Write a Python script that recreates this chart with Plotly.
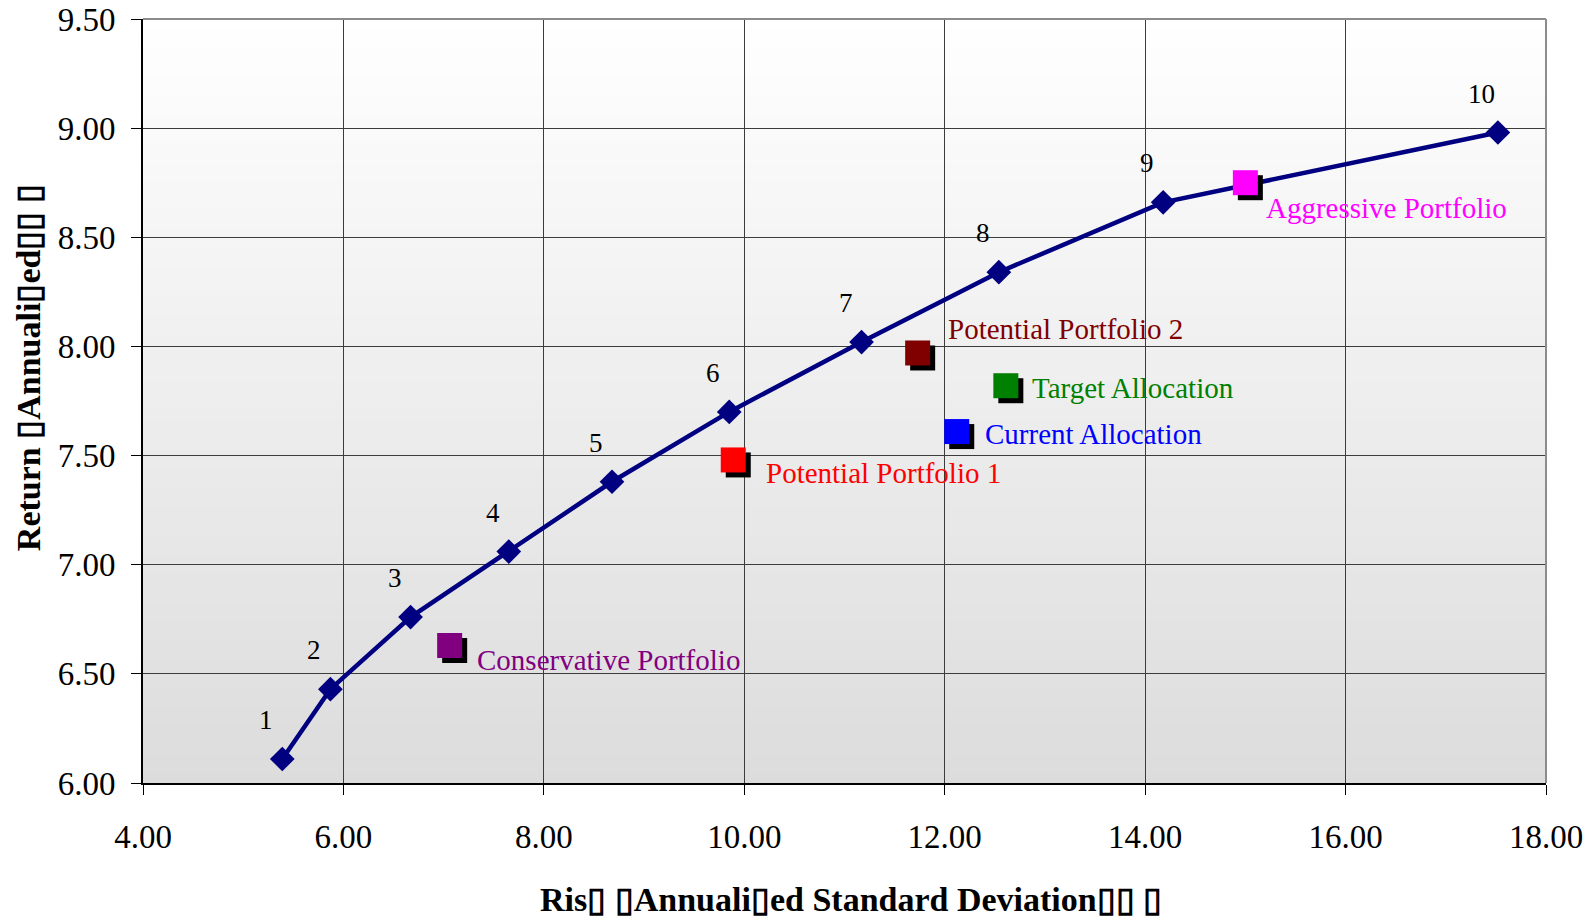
import plotly.graph_objects as go

# ---- data ----
frontier_labels = ["1", "2", "3", "4", "5", "6", "7", "8", "9", "10"]
frontier_risk = [5.39, 5.87, 6.67, 7.65, 8.68, 9.85, 11.17, 12.54, 14.18, 17.52]
frontier_return = [6.11, 6.43, 6.76, 7.06, 7.38, 7.70, 8.02, 8.34, 8.66, 8.98]

portfolio_names = ["Conservative Portfolio", "Potential Portfolio 1", "Potential Portfolio 2",
                   "Target Allocation", "Current Allocation", "Aggressive Portfolio"]
portfolio_risk = [7.06, 9.89, 11.73, 12.61, 12.12, 15.00]
portfolio_return = [6.63, 7.48, 7.97, 7.82, 7.61, 8.75]
portfolio_colors = ["#800080", "#ff0000", "#800000", "#008000", "#0000ff", "#ff00ff"]
# label offsets in pixels (x right, y up)
label_dx = [25, 31, 28, 24, 26, 19]
label_dy = [-15, -13, 24, -2, -2, -25]

x_ticks = [4, 6, 8, 10, 12, 14, 16, 18]
y_ticks = [6.0, 6.5, 7.0, 7.5, 8.0, 8.5, 9.0, 9.5]
x_title = "<b>Ris\u25af \u25afAnnuali\u25afed Standard Deviation\u25af\u25af \u25af</b>"
y_title = "<b>Return \u25afAnnuali\u25afed\u25af\u25af \u25af</b>"

# ---- layout geometry (body margin removed via post_script) ----
W, H = 1594, 917
ML, MR, MT, MB = 143, 48, 19, 134
XR = [4, 18]
YR = [6.0, 9.5]
plot_w = W - ML - MR
plot_h = H - MT - MB
shadow_px = 5
dx = shadow_px * (XR[1] - XR[0]) / plot_w
dy = shadow_px * (YR[1] - YR[0]) / plot_h

FONT = "Liberation Serif, Times New Roman, serif"

fig = go.Figure()

# frontier line
fig.add_trace(go.Scatter(
    x=frontier_risk, y=frontier_return, mode="lines+markers",
    line=dict(color="#000080", width=4.5),
    marker=dict(symbol="diamond", size=19, color="#000080"),
    showlegend=False, hoverinfo="skip", xaxis="x", yaxis="y"))

# shadows (shifted axes)
fig.add_trace(go.Scatter(
    x=portfolio_risk, y=portfolio_return, mode="markers",
    marker=dict(symbol="square", size=25, color="#000000", line=dict(width=0)),
    showlegend=False, hoverinfo="skip", xaxis="x2", yaxis="y2"))

# portfolio squares
fig.add_trace(go.Scatter(
    x=portfolio_risk, y=portfolio_return, mode="markers",
    marker=dict(symbol="square", size=25, color=portfolio_colors, line=dict(width=0)),
    showlegend=False, hoverinfo="skip", xaxis="x3", yaxis="y3"))

annotations = []
for lab, xv, yv in zip(frontier_labels, frontier_risk, frontier_return):
    annotations.append(dict(x=xv, y=yv, xref="x", yref="y", text=lab, showarrow=False,
                            xshift=-16, yshift=39, xanchor="center", yanchor="middle",
                            font=dict(family=FONT, size=27, color="#000000")))
for name, xv, yv, c, ox, oy in zip(portfolio_names, portfolio_risk, portfolio_return,
                                   portfolio_colors, label_dx, label_dy):
    annotations.append(dict(x=xv, y=yv, xref="x", yref="y", text=name, showarrow=False,
                            xshift=ox, yshift=oy, xanchor="left", yanchor="middle",
                            font=dict(family=FONT, size=29, color=c)))

# axis titles as annotations (positioned like the reference)
annotations.append(dict(x=0.5046, y=0, xref="x domain", yref="y domain", text=x_title,
                        showarrow=False, xanchor="center", yanchor="middle", yshift=-116,
                        font=dict(family=FONT, size=34, color="#000000")))
annotations.append(dict(x=0, y=0.543, xref="x domain", yref="y domain", text=y_title,
                        showarrow=False, xanchor="center", yanchor="middle", xshift=-115,
                        textangle=-90, font=dict(family=FONT, size=34, color="#000000")))

# gradient background bands
shapes = []
N = 80
top_c, bot_c = 255, 220
for i in range(N):
    f0, f1 = i / N, (i + 1) / N
    t = (f0 + f1) / 2
    v = round(bot_c + (top_c - bot_c) * t)
    shapes.append(dict(type="rect", xref="x domain", yref="y domain", x0=0, x1=1,
                       y0=f0, y1=f1 + 0.002, fillcolor=f"rgb({v},{v},{v})",
                       line=dict(width=0), layer="below"))
# gray top / right border
shapes.append(dict(type="line", xref="x domain", yref="y domain", x0=0, x1=1, y0=1, y1=1,
                   line=dict(color="#8c8c8c", width=2), layer="above"))
shapes.append(dict(type="line", xref="x domain", yref="y domain", x0=1, x1=1, y0=0, y1=1,
                   line=dict(color="#8c8c8c", width=2), layer="above"))

tickfont = dict(family=FONT, size=33, color="#000000")
fig.update_layout(
    width=W, height=H,
    margin=dict(l=ML, r=MR, t=MT, b=MB, pad=0, autoexpand=False),
    paper_bgcolor="#ffffff", plot_bgcolor="#ffffff",
    font=dict(family=FONT, color="#000000"),
    hovermode=False,
    xaxis=dict(range=XR, tickvals=x_ticks, tickformat=".2f", tickfont=tickfont,
               showgrid=True, gridcolor="#3c3c3c", gridwidth=1,
               showline=True, linecolor="#000000", linewidth=2,
               ticks="outside", ticklen=10, tickcolor="#000000", tickwidth=1,
               zeroline=False, ticklabelstandoff=13, automargin=False,
               ticklabeloverflow="allow"),
    yaxis=dict(range=YR, tickvals=y_ticks, tickformat=".2f", tickfont=tickfont,
               showgrid=True, gridcolor="#3c3c3c", gridwidth=1,
               showline=True, linecolor="#000000", linewidth=2,
               ticks="outside", ticklen=10, tickcolor="#000000", tickwidth=1,
               zeroline=False, ticklabelstandoff=9, automargin=False,
               ticklabeloverflow="allow"),
    xaxis2=dict(range=[XR[0] - dx, XR[1] - dx], overlaying="x", visible=False),
    yaxis2=dict(range=[YR[0] + dy, YR[1] + dy], overlaying="y", visible=False),
    xaxis3=dict(range=XR, overlaying="x", visible=False),
    yaxis3=dict(range=YR, overlaying="y", visible=False),
    annotations=annotations,
    shapes=shapes,
)

fig.write_html("out.html",
               config={"displayModeBar": False},
               post_script="document.body.style.margin='0';document.body.style.overflow='hidden';")
